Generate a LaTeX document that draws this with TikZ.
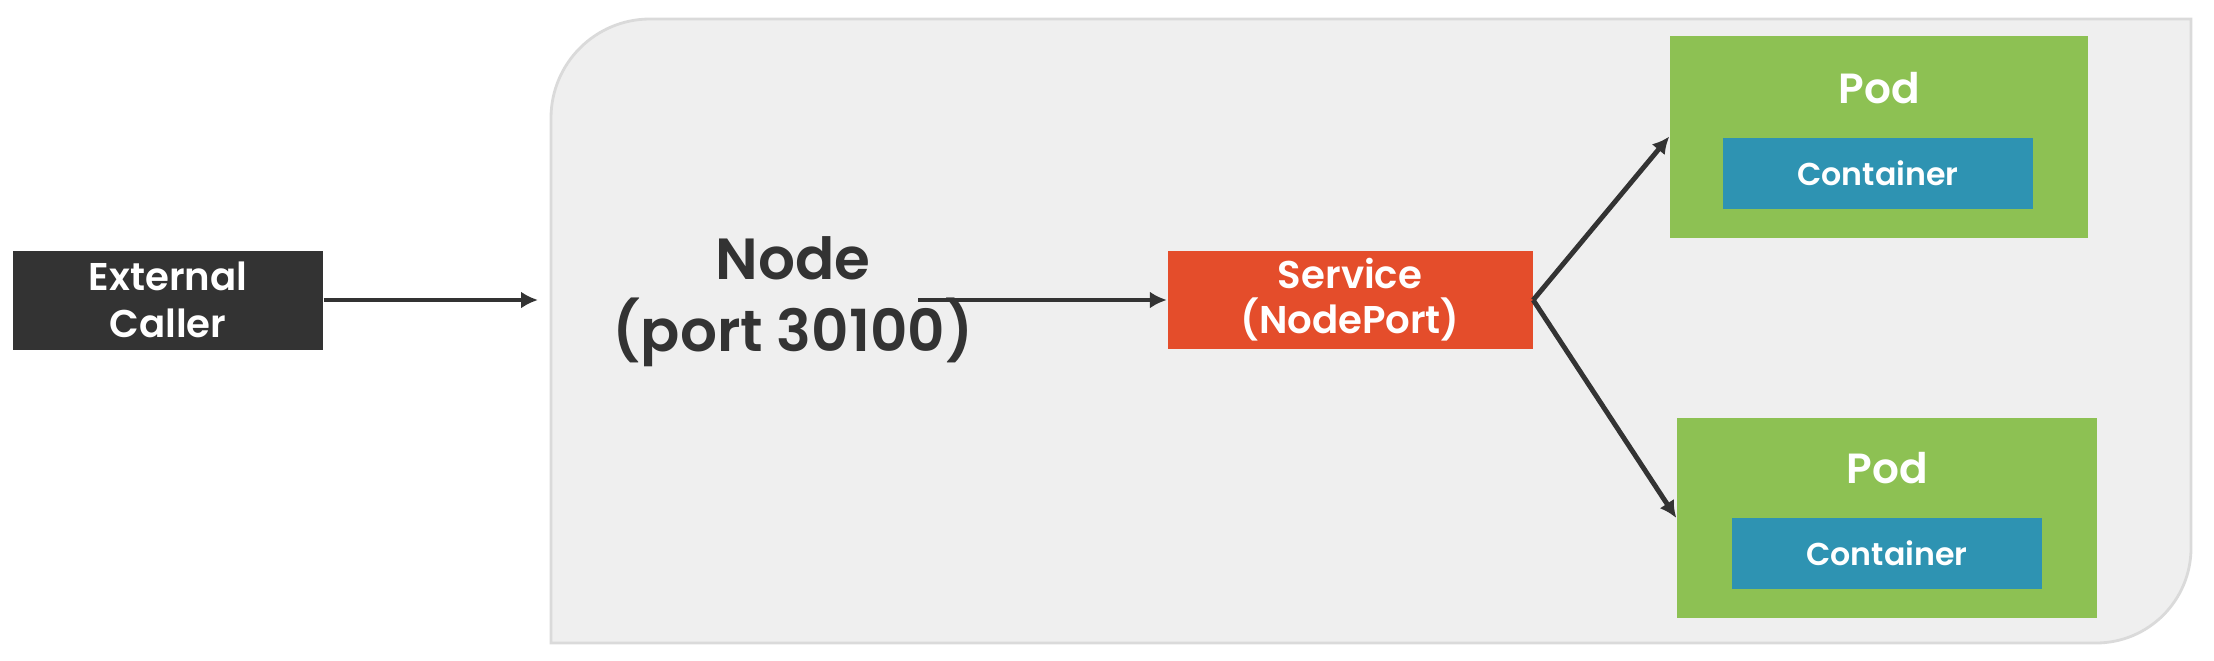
\documentclass[tikz,border=0pt]{standalone}
\usepackage{fontspec}
\setmainfont{Poppins}[BoldFont={Poppins SemiBold}]
\usetikzlibrary{arrows.meta,positioning}
\definecolor{callergray}{HTML}{333333}
\definecolor{panelgray}{HTML}{EFEFEF}
\definecolor{panelline}{HTML}{DADADA}
\definecolor{svcred}{HTML}{E44D2B}
\definecolor{podgreen}{HTML}{8DC153}
\definecolor{ctrblue}{HTML}{2E93B2}
\tikzset{
  box/.style={rectangle, inner sep=0pt, align=center, text=white, font=\bfseries},
  caller/.style={box, fill=callergray, minimum width=3.1cm, minimum height=0.99cm, font=\fontsize{11}{13.4}\selectfont\bfseries},
  svc/.style={box, fill=svcred, minimum width=3.65cm, minimum height=0.975cm, font=\fontsize{11}{12.8}\selectfont\bfseries},
  pod/.style={box, fill=podgreen, minimum width=4.18cm, minimum height=2.02cm},
  podlbl/.style={text=white, font=\fontsize{12}{14}\selectfont\bfseries},
  ctr/.style={box, fill=ctrblue, minimum width=3.1cm, minimum height=0.71cm, font=\fontsize{9}{11}\selectfont\bfseries},
  flow/.style={line width=1.4pt, draw=callergray, -{Latex[length=1.7mm,width=1.7mm]}}
}
\begin{document}
\begin{tikzpicture}
            \useasboundingbox (0,0) rectangle (22.14,6.60);
            % the cluster node
            \draw [fill=panelgray, draw=panelline, line width=0.8pt] (5.51,0.17) -- (5.51,5.42)
              arc[start angle=180, end angle=90, radius=0.99] -- (21.91,6.41) -- (21.91,1.12)
              arc[start angle=0, end angle=-90, radius=0.95] -- cycle;
            \node [caller] (caller) at (1.68,3.60) {External\\Caller};
            \coordinate (entry) at (5.38,3.60);
            \node [align=center, text=callergray, font=\fontsize{16.5}{20.5}\selectfont\bfseries] (nodetxt) at (7.93,3.58) {Node\\(port 30100)};
            \coordinate (tap) at (9.18,3.60);
            \node [svc] (service) at (13.50,3.60) {Service\\(NodePort)};
            % pods
            \node [pod] (pod1) at (18.79,5.235) {};
            \node [ctr] (ctr1) at (18.78,4.87) {Container};
            \node [podlbl] (podlbl1) at (18.79,5.72) {Pod};
            \node [pod, minimum width=4.2cm, minimum height=2.0cm] (pod2) at (18.87,1.42) {};
            \node [ctr] (ctr2) at (18.87,1.07) {Container};
            \node [podlbl] (podlbl2) at (18.87,1.92) {Pod};
            \draw [flow] (caller) -- (entry);
            \draw [flow] (tap) -- (service);
            \draw [flow] (service.east) -- (pod1.west);
            \draw [flow] (service.east) -- (pod2.west);
        \end{tikzpicture}
\end{document}
